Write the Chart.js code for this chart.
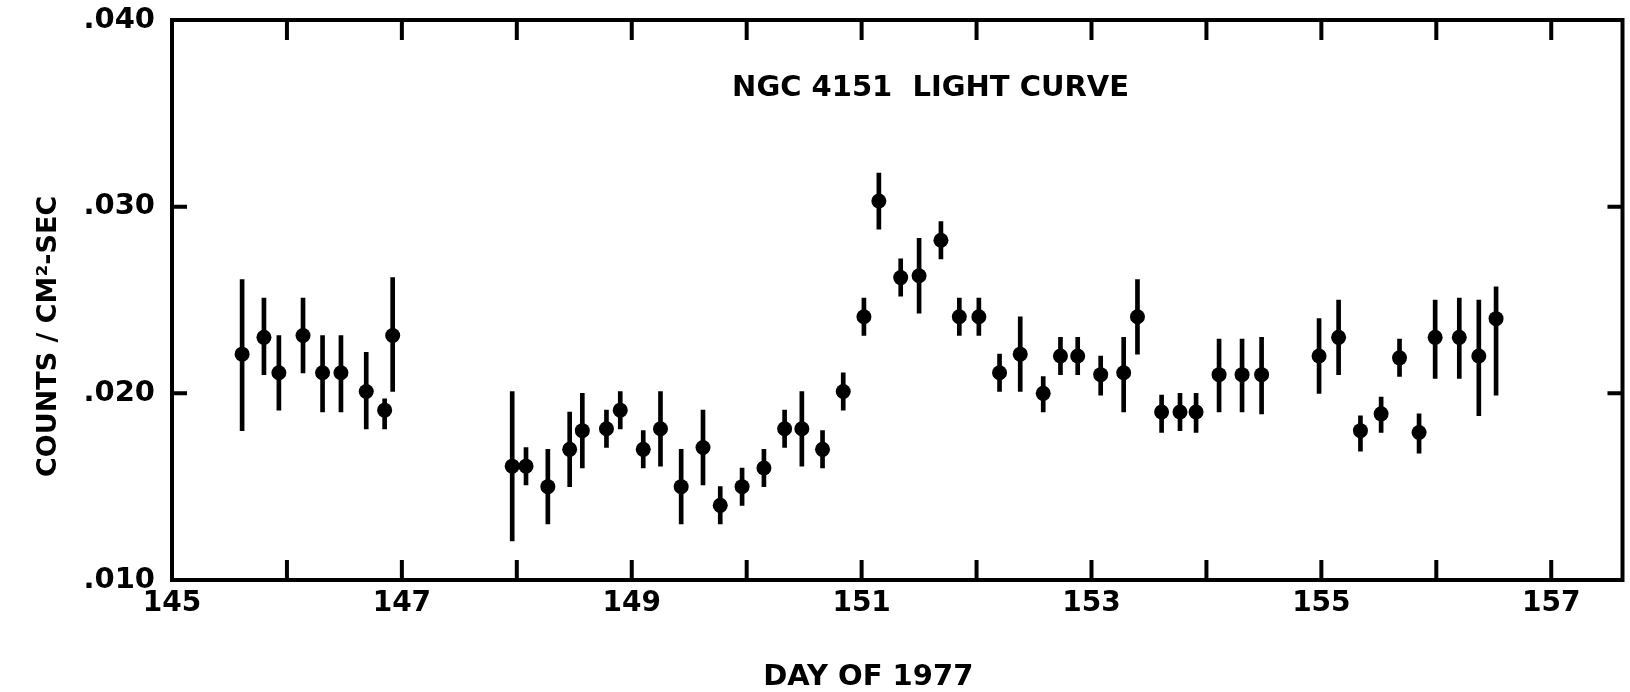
<!DOCTYPE html>
<html>
<head>
<meta charset="utf-8">
<title>NGC 4151 light curve</title>
<script src="https://cdn.jsdelivr.net/npm/chart.js@4.4.1/dist/chart.umd.min.js"></script>
<style>
  html, body { margin: 0; padding: 0; background: #fff; }
  #wrap { width: 1630px; height: 692px; }
</style>
</head>
<body>
<div id="wrap"><canvas id="lightCurve"></canvas></div>
<script>
// day of 1977 for each measurement
const days = [
  145.61, 145.80, 145.93, 146.14, 146.31, 146.47, 146.69, 146.85, 146.92,
  147.96, 148.08, 148.27, 148.46, 148.57, 148.78, 148.90, 149.10, 149.25,
  149.43, 149.62, 149.77, 149.96, 150.15, 150.33, 150.48, 150.66, 150.84,
  151.02, 151.15, 151.34, 151.50, 151.69, 151.85, 152.02, 152.20, 152.38,
  152.58, 152.73, 152.88, 153.08, 153.28, 153.40, 153.61, 153.77, 153.91,
  154.11, 154.31, 154.48, 154.98, 155.15, 155.34, 155.52, 155.68, 155.85,
  155.99, 156.20, 156.37, 156.52
];
// counts / cm2-sec
const counts = [
  .0221, .0230, .0211, .0231, .0211, .0211, .0201, .0191, .0231,
  .0161, .0161, .0150, .0170, .0180, .0181, .0191, .0170, .0181,
  .0150, .0171, .0140, .0150, .0160, .0181, .0181, .0170, .0201,
  .0241, .0303, .0262, .0263, .0282, .0241, .0241, .0211, .0221,
  .0200, .0220, .0220, .0210, .0211, .0241, .0190, .0190, .0190,
  .0210, .0210, .0210, .0220, .0230, .0180, .0189, .0219, .0179,
  .0230, .0230, .0220, .0240
];
// error bar half lengths (up / down)
const errUp = [
  .0040, .0021, .0020, .0020, .0020, .0020, .0021, .0006, .0031,
  .0040, .0010, .0020, .0020, .0020, .0010, .0010, .0010, .0020,
  .0020, .0020, .0010, .0010, .0010, .0010, .0020, .0010, .0010,
  .0010, .0015, .0010, .0020, .0010, .0010, .0010, .0010, .0020,
  .0009, .0010, .0010, .0010, .0019, .0020, .0009, .0010, .0010,
  .0019, .0019, .0020, .0020, .0020, .0008, .0009, .0010, .0010,
  .0020, .0021, .0030, .0017
];
const errDown = [
  .0041, .0020, .0020, .0020, .0021, .0021, .0020, .0010, .0030,
  .0040, .0010, .0020, .0020, .0020, .0010, .0010, .0010, .0020,
  .0020, .0020, .0010, .0010, .0010, .0010, .0020, .0010, .0010,
  .0010, .0015, .0010, .0020, .0010, .0010, .0010, .0010, .0020,
  .0010, .0010, .0010, .0011, .0021, .0020, .0011, .0010, .0011,
  .0020, .0020, .0021, .0020, .0020, .0011, .0010, .0010, .0011,
  .0022, .0022, .0032, .0041
];

const dayTicks = [145, 146, 147, 148, 149, 150, 151, 152, 153, 154, 155, 156, 157];
const countTicks = [0.010, 0.020, 0.030, 0.040];
const plotCaption = 'NGC 4151  LIGHT CURVE';

Chart.defaults.font.family = '"DejaVu Sans", sans-serif';
Chart.defaults.color = '#000';

// box round the plot with inward ticks, plus the caption inside it
const frameTicks = {
  id: 'frameTicks',
  afterDatasetsDraw(chart) {
    const {ctx, chartArea: a, scales: {x, y}} = chart;
    ctx.save();
    ctx.strokeStyle = '#000';
    ctx.lineWidth = 4;
    ctx.strokeRect(a.left, a.top, a.right - a.left, a.bottom - a.top);
    ctx.beginPath();
    dayTicks.forEach(d => {
      if (d <= x.min) return;
      const px = x.getPixelForValue(d);
      ctx.moveTo(px, a.top); ctx.lineTo(px, a.top + 20);
      ctx.moveTo(px, a.bottom); ctx.lineTo(px, a.bottom - 20);
    });
    countTicks.forEach(v => {
      if (v <= y.min || v >= y.max) return;
      const py = y.getPixelForValue(v);
      ctx.moveTo(a.left, py); ctx.lineTo(a.left + 15, py);
      ctx.moveTo(a.right, py); ctx.lineTo(a.right - 15, py);
    });
    ctx.stroke();
    ctx.fillStyle = '#000';
    ctx.font = 'bold 29px "DejaVu Sans"';
    ctx.textAlign = 'center';
    ctx.textBaseline = 'middle';
    ctx.fillText(plotCaption, a.left + (a.right - a.left) * 0.523, a.top + 68);
    ctx.restore();
  }
};

new Chart(document.getElementById('lightCurve'), {
  type: 'scatter',
  data: {
    datasets: [
      {
        type: 'bar',
        label: 'error',
        data: days.map((d, i) => ({x: d, y: [counts[i] - errDown[i], counts[i] + errUp[i]]})),
        backgroundColor: '#000',
        borderWidth: 0,
        barThickness: 4
      },
      {
        type: 'scatter',
        label: 'flux',
        data: days.map((d, i) => ({x: d, y: counts[i]})),
        pointRadius: 7.5,
        pointHoverRadius: 7.5,
        backgroundColor: '#000',
        borderWidth: 0
      }
    ]
  },
  options: {
    responsive: true,
    maintainAspectRatio: false,
    animation: false,
    layout: { padding: { top: 20, right: 6, left: 0, bottom: 0 } },
    plugins: { legend: { display: false }, tooltip: { enabled: false } },
    scales: {
      x: {
        type: 'linear',
        min: 145,
        max: 157.62,
        offset: false,
        afterBuildTicks: s => { s.ticks = dayTicks.map(v => ({value: v})); },
        afterFit: s => { s.height = 112; s.paddingLeft = 0; s.paddingRight = 0; },
        grid: { display: false, drawTicks: false },
        border: { display: false },
        ticks: {
          autoSkip: false,
          maxRotation: 0,
          padding: 7,
          font: { size: 28, weight: 'bold' },
          callback: v => (v % 2 === 1 ? String(v) : '')
        },
        title: {
          display: true,
          text: 'DAY OF 1977\u2003\u2003',
          padding: { top: 0, bottom: 0 },
          font: { size: 29, weight: 'bold', lineHeight: 1 }
        }
      },
      y: {
        type: 'linear',
        min: 0.010,
        max: 0.040,
        afterBuildTicks: s => { s.ticks = countTicks.map(v => ({value: v})); },
        afterFit: s => { s.width = 172; s.paddingTop = 0; s.paddingBottom = 0; },
        grid: { display: false, drawTicks: false },
        border: { display: false },
        ticks: {
          padding: 17,
          font: { size: 29, weight: 'bold' },
          callback: v => v.toFixed(3).slice(1)
        },
        title: {
          display: true,
          text: 'COUNTS / CM²-SEC\u2003\u2003  ',
          padding: { top: 33, bottom: 0 },
          font: { size: 27, weight: 'bold' }
        }
      }
    }
  },
  plugins: [frameTicks]
});
</script>
</body>
</html>
